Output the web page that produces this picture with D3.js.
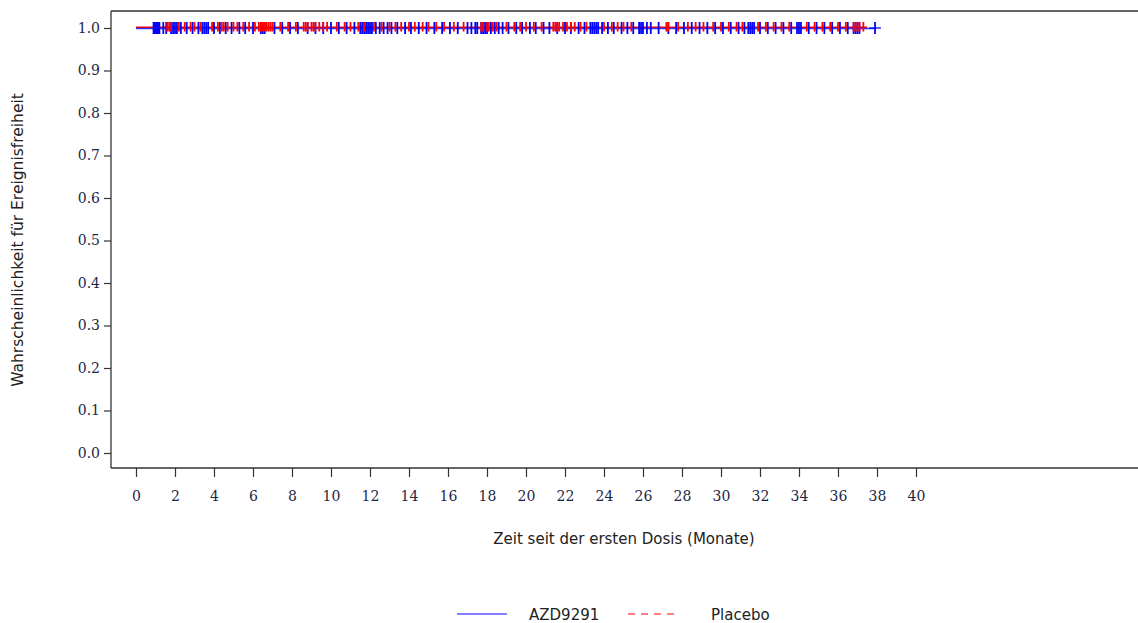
<!DOCTYPE html>
<html>
<head>
<meta charset="utf-8">
<script src="https://cdn.jsdelivr.net/npm/d3@7"></script>
<style>
  body { margin: 0; background: #fff; }
  svg { display: block; }
</style>
</head>
<body>
<svg id="chart" width="1138" height="623"></svg>
<script>
// ---- data ----
const seriesNames = ["AZD9291", "Placebo"];
const xTicks = [0,2,4,6,8,10,12,14,16,18,20,22,24,26,28,30,32,34,36,38,40];
const yTicks = [0.0,0.1,0.2,0.3,0.4,0.5,0.6,0.7,0.8,0.9,1.0];
// survival curves (time in months, survival probability)
const azdCurve = [[0, 1.0], [37.9, 1.0]];
const placeboCurve = [[0, 1.0], [37.5, 1.0]];
// censoring times (months)
const azdCensor = [0.9,0.95,1.0,1.05,1.1,1.15,1.2,1.4,1.55,1.8,1.9,2.0,2.1,2.3,2.6,2.9,3.2,3.4,3.5,3.6,3.7,4.0,4.3,4.6,4.9,5.3,5.6,6.0,6.4,6.5,6.6,7.1,7.5,7.9,8.3,8.8,9.2,9.6,10.0,10.4,10.8,11.2,11.5,11.6,11.7,11.8,11.9,12.0,12.1,12.3,12.5,12.7,12.9,13.1,13.4,13.8,14.1,14.5,14.9,15.3,15.7,16.1,16.5,17.0,17.2,17.4,17.5,17.7,17.8,17.9,18.0,18.2,18.4,18.6,18.8,19.1,19.5,19.8,20.2,20.5,20.9,21.2,21.6,22.0,22.3,22.7,23.0,23.3,23.4,23.5,23.6,23.7,23.9,24.2,24.5,24.9,25.2,25.5,25.8,25.9,26.0,26.2,26.4,26.8,27.3,27.7,28.1,28.5,28.9,29.3,29.7,30.1,30.5,30.9,31.2,31.4,31.5,31.6,31.7,32.0,32.4,32.8,33.2,33.6,33.9,34.0,34.1,34.5,34.9,35.3,35.7,36.1,36.5,36.8,36.9,37.0,37.1,37.9];
const placeboCensor = [1.6,1.7,1.8,2.2,2.5,2.8,3.0,3.3,3.9,4.2,4.4,4.5,4.7,5.0,5.2,5.5,5.8,6.1,6.3,6.4,6.5,6.6,6.7,6.8,6.9,7.0,7.4,7.8,8.2,8.6,8.7,8.8,9.0,9.1,9.2,9.4,9.6,9.8,10.3,10.7,11.0,11.4,11.7,12.2,12.6,13.0,13.3,13.6,14.0,14.3,14.7,15.0,15.4,15.8,16.3,16.8,17.7,17.8,18.0,18.1,18.3,18.5,19.0,19.4,19.7,20.0,20.4,20.8,21.4,21.5,21.6,21.7,21.9,22.1,22.3,22.5,22.8,23.1,24.0,24.4,24.7,25.0,25.4,27.2,27.3,27.8,28.3,28.7,29.1,29.6,30.0,30.4,30.8,31.1,31.9,32.3,32.7,33.1,33.5,34.4,34.8,35.2,35.6,36.0,36.4,36.8,36.9,37.0,37.1,37.3];

// ---- layout ----
const svg = d3.select("#chart");
const frame = { left: 111, top: 11, right: 1138, bottom: 468 };
const W = frame.right - frame.left, H = frame.bottom - frame.top;
const g = svg.append("g").attr("transform", `translate(${frame.left},${frame.top})`);

const x = d3.scaleLinear().domain([0, 40]).range([25, 805]);
const y = d3.scaleLinear().domain([0, 1]).range([442, 17]);

const tickColor = "#1c2747";
const serif = "'DejaVu Serif', serif";
const sans = "'DejaVu Sans', sans-serif";

// frame lines
g.append("line").attr("x1", 0).attr("x2", W).attr("y1", 0).attr("y2", 0)
  .attr("stroke", "#333").attr("stroke-width", 1.3);
g.append("line").attr("x1", 0).attr("x2", W).attr("y1", H).attr("y2", H)
  .attr("stroke", "#333").attr("stroke-width", 1.3);
g.append("line").attr("x1", 0).attr("x2", 0).attr("y1", 0).attr("y2", H)
  .attr("stroke", "#333").attr("stroke-width", 1.3);

// axes
const yAxis = d3.axisLeft(y).tickValues(yTicks).tickFormat(d3.format(".1f")).tickSize(7).tickPadding(4);
const yg = g.append("g").call(yAxis);
yg.select(".domain").remove();
yg.selectAll(".tick line").attr("stroke", "#333").attr("stroke-width", 1.2);
yg.selectAll(".tick text").attr("fill", tickColor).style("font-family", serif).style("font-size", "14px");

const xAxis = d3.axisBottom(x).tickValues(xTicks).tickFormat(d3.format("d")).tickSize(9).tickPadding(14);
const xg = g.append("g").attr("transform", `translate(0,${H})`).call(xAxis);
xg.select(".domain").remove();
xg.selectAll(".tick line").attr("stroke", "#333").attr("stroke-width", 1.2);
xg.selectAll(".tick text").attr("fill", tickColor).style("font-family", serif).style("font-size", "14px");

// axis titles
svg.append("text")
  .attr("x", 624).attr("y", 544)
  .attr("text-anchor", "middle")
  .style("font-family", sans).style("font-size", "15px").attr("fill", "#222")
  .text("Zeit seit der ersten Dosis (Monate)");
svg.append("text")
  .attr("transform", "translate(23,240) rotate(-90)")
  .attr("text-anchor", "middle")
  .style("font-family", sans).style("font-size", "15.5px").attr("fill", "#222")
  .text("Wahrscheinlichkeit für Ereignisfreiheit");

// curves
const line = d3.line().x(d => x(d[0])).y(d => y(d[1])).curve(d3.curveStepAfter);
const blue = "#0000ff", red = "#ff0000";
g.append("path").datum(placeboCurve).attr("d", line)
  .attr("fill", "none").attr("stroke", red).attr("stroke-width", 1.4)
  .attr("transform", "translate(0,-0.8)");
g.append("path").datum(azdCurve).attr("d", line)
  .attr("fill", "none").attr("stroke", blue).attr("stroke-width", 1.3)
  .attr("stroke-opacity", 0.8).attr("transform", "translate(0,0.5)");

// censor marks
function censor(data, color, up, down) {
  g.append("g").selectAll("line").data(data).join("line")
    .attr("x1", d => x(d)).attr("x2", d => x(d))
    .attr("y1", y(1) - up).attr("y2", y(1) + down)
    .attr("stroke", color).attr("stroke-width", 1.8);
}
censor(azdCensor, blue, 6, 6);
censor(placeboCensor, red, 6, 3.5);
// small horizontal cross bar at final censor (plus mark)
g.append("line").attr("x1", x(37.6)).attr("x2", x(38.2)).attr("y1", y(1)).attr("y2", y(1))
  .attr("stroke", blue).attr("stroke-width", 1.3);

// legend
const leg = svg.append("g");
leg.append("line").attr("x1", 457).attr("x2", 507).attr("y1", 614).attr("y2", 614)
  .attr("stroke", blue).attr("stroke-width", 1.2);
leg.append("text").attr("x", 529).attr("y", 620).text(seriesNames[0])
  .style("font-family", sans).style("font-size", "15px").attr("fill", "#222");
leg.append("line").attr("x1", 628).attr("x2", 680).attr("y1", 614).attr("y2", 614)
  .attr("stroke", red).attr("stroke-width", 1.2).attr("stroke-dasharray", "7,6");
leg.append("text").attr("x", 711).attr("y", 620).text(seriesNames[1])
  .style("font-family", sans).style("font-size", "15px").attr("fill", "#222");
</script>
</body>
</html>
